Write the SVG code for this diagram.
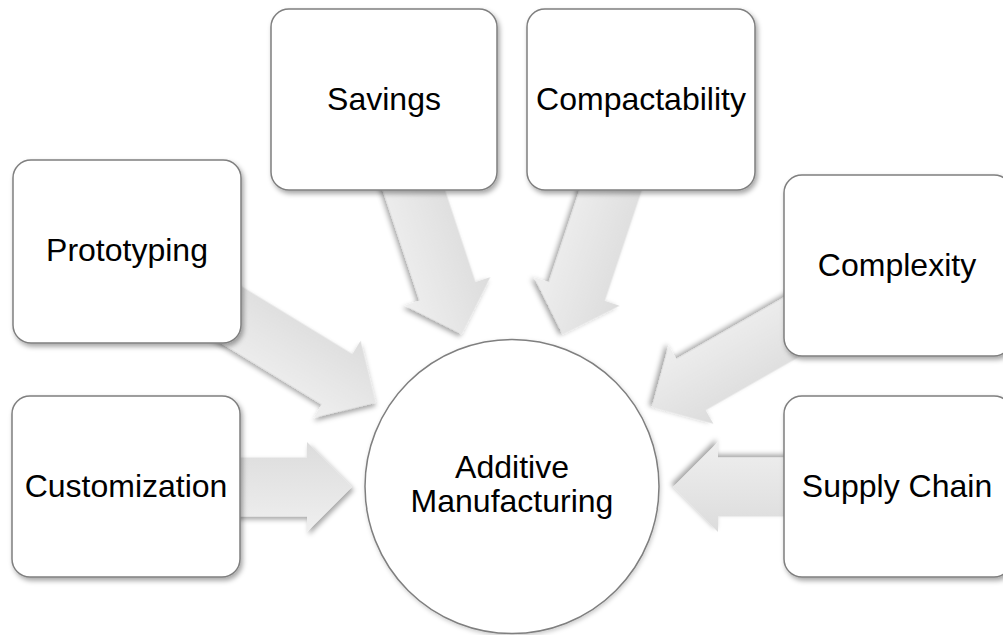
<svg xmlns="http://www.w3.org/2000/svg" width="1003" height="635" viewBox="0 0 1003 635">
  <style>
    .box { fill: #ffffff; stroke: #7f7f7f; stroke-width: 1.5; filter: url(#shadow); }
    .hub { fill: #ffffff; stroke: #7f7f7f; stroke-width: 1.5; filter: url(#softShadow); }
    .label { font-family: "Liberation Sans", Arial, sans-serif; font-size: 32px; fill: #000000; text-anchor: middle; }
    .arrow { fill: url(#arrowFill); filter: url(#shadow); }
  </style>
  <defs>
    <filter id="shadow" x="-20%" y="-20%" width="140%" height="140%">
      <feDropShadow dx="2" dy="3" stdDeviation="2.5" flood-color="#000000" flood-opacity="0.35"/>
    </filter>
    <filter id="softShadow" x="-10%" y="-10%" width="120%" height="120%">
      <feDropShadow dx="1" dy="2" stdDeviation="2" flood-color="#000000" flood-opacity="0.2"/>
    </filter>
    <linearGradient id="arrowFill" x1="0" y1="0" x2="0" y2="1">
      <stop offset="0" stop-color="#dcdcdc"/>
      <stop offset="1" stop-color="#efefef"/>
    </linearGradient>
    <!-- block arrow pointing along +x, tip at origin -->
    <path id="blockArrow" d="M0,0 L-45,-45 L-45,-29.5 L-200,-29.5 L-200,29.5 L-45,29.5 L-45,45 Z"/>
  </defs>

  <rect width="1003" height="635" fill="#ffffff"/>

  <g id="connectors">
    <use href="#blockArrow" class="arrow" transform="translate(352,487)"/>
    <use href="#blockArrow" class="arrow" transform="translate(673,487) rotate(180)"/>
    <use href="#blockArrow" class="arrow" transform="translate(375.5,402.6) rotate(31.4)"/>
    <use href="#blockArrow" class="arrow" transform="translate(461.7,334) rotate(71.67)"/>
    <use href="#blockArrow" class="arrow" transform="translate(562.7,334.2) rotate(108.45)"/>
    <use href="#blockArrow" class="arrow" transform="translate(652,407) rotate(150.26)"/>
  </g>

  <g id="node-savings">
    <rect class="box" x="271" y="9" width="226" height="181" rx="18"/>
    <text class="label" x="384" y="110">Savings</text>
  </g>
  <g id="node-compactability">
    <rect class="box" x="527" y="9" width="228" height="181" rx="18"/>
    <text class="label" x="641" y="110">Compactability</text>
  </g>
  <g id="node-prototyping">
    <rect class="box" x="13" y="160" width="228" height="183" rx="18"/>
    <text class="label" x="127" y="261">Prototyping</text>
  </g>
  <g id="node-complexity">
    <rect class="box" x="784" y="175" width="228" height="181" rx="18"/>
    <text class="label" x="897" y="276">Complexity</text>
  </g>
  <g id="node-customization">
    <rect class="box" x="12" y="396" width="228" height="181" rx="18"/>
    <text class="label" x="126" y="497">Customization</text>
  </g>
  <g id="node-supply-chain">
    <rect class="box" x="784" y="396" width="228" height="181" rx="18"/>
    <text class="label" x="897" y="497">Supply Chain</text>
  </g>
  <g id="node-additive-manufacturing">
    <circle class="hub" cx="512" cy="486.5" r="147"/>
    <text class="label" x="512" y="478">Additive</text>
    <text class="label" x="512" y="512">Manufacturing</text>
  </g>
</svg>
